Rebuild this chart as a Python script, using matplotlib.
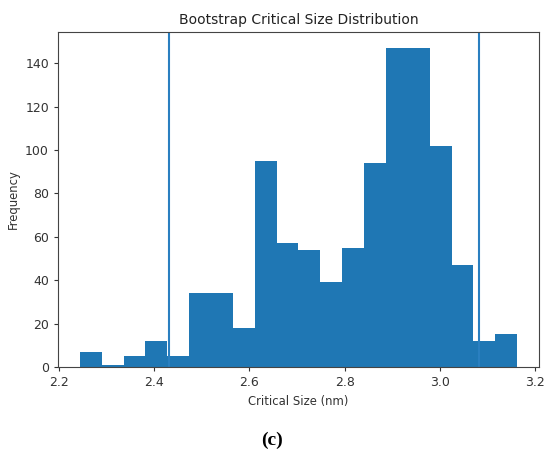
import numpy as np
import matplotlib
matplotlib.use('Agg')
import matplotlib.pyplot as plt

# bootstrap histogram
bin_start = 2.244
bin_width = 0.0459
counts = [7, 1, 5, 12, 5, 34, 34, 18, 95, 57, 54, 39, 55, 94, 147, 147, 102, 47, 12, 15]
ci_lower = 2.432
ci_upper = 3.081

edges = bin_start + bin_width * np.arange(len(counts) + 1)
centers = (edges[:-1] + edges[1:]) / 2

fig = plt.figure(figsize=(5.44, 4.59), dpi=100)
ax = fig.add_axes([58 / 544, 1 - 367 / 459, 481 / 544, 335 / 459])

ax.hist(centers, bins=edges, weights=counts, color='#1f77b4')
ax.axvline(ci_lower, color='#2a7fc0', linewidth=1.5)
ax.axvline(ci_upper, color='#2a7fc0', linewidth=1.5)

ax.set_xticks([2.2, 2.4, 2.6, 2.8, 3.0, 3.2])
ax.set_yticks([0, 20, 40, 60, 80, 100, 120, 140])
ax.tick_params(labelsize=9, colors='#333333', length=3)
for sp in ax.spines.values():
    sp.set_color('#444444')

ax.set_title('Bootstrap Critical Size Distribution', fontsize=10, color='#222222')
ax.set_xlabel('Critical Size (nm)', fontsize=8.4, color='#333333')
ax.set_ylabel('Frequency', fontsize=8.4, color='#333333')

fig.text(0.5, 1 - 440 / 459, '(c)', ha='center', va='center',
         fontsize=14, fontweight='bold', family='Liberation Serif')

fig.savefig('out.png', dpi=100)
